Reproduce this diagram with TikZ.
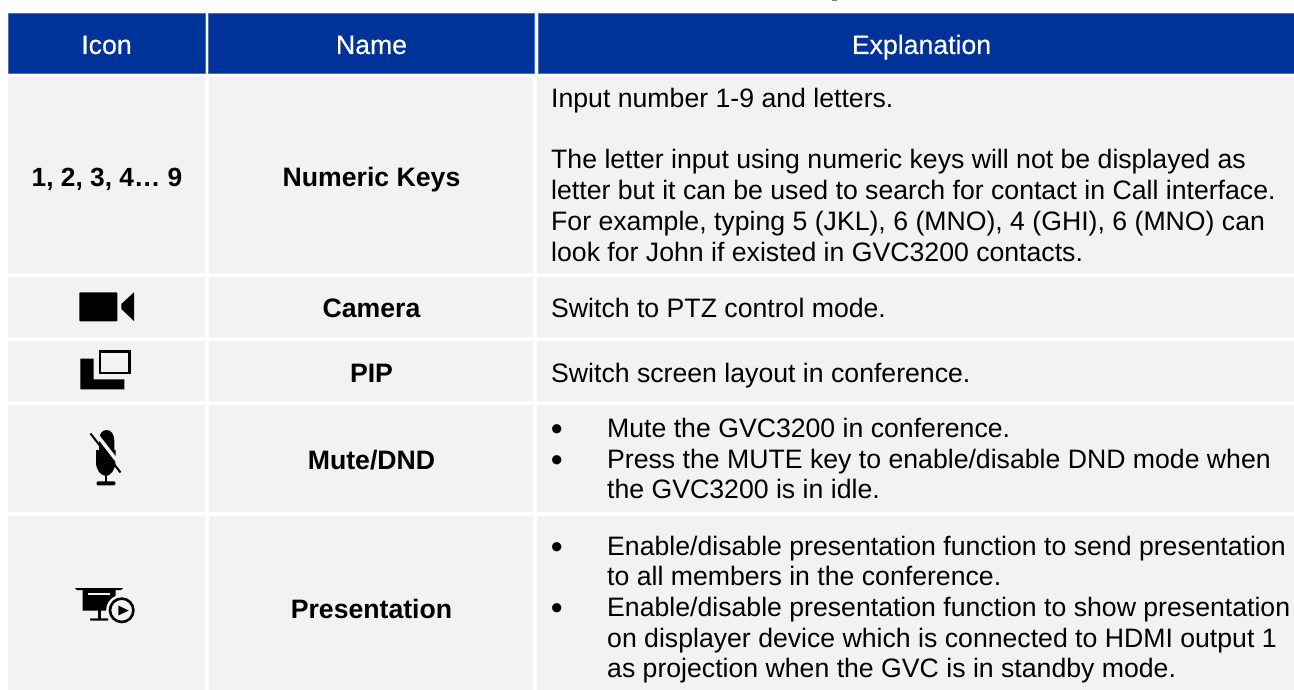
\documentclass[tikz,border=0pt]{standalone}
\usepackage{fontspec}
\setmainfont{Liberation Sans}
\definecolor{hdr}{HTML}{003399}
\definecolor{cellbg}{HTML}{F2F2F2}
\definecolor{txt}{HTML}{000000}
\newcommand{\tsize}{\fontsize{26.65}{30}\selectfont}
\tikzset{
 x=1pt,y=-1pt,
 cell/.style={fill=cellbg,draw=none,inner sep=0pt,outer sep=0pt,anchor=north west},
 head/.style={fill=hdr,draw=hdr!70!white,line width=0.6pt,inner sep=0pt,outer sep=0pt,anchor=center},
 headlbl/.style={text=white,font=\tsize\addfontfeature{FakeBold=0.4},inner sep=0pt,anchor=base},
 namelbl/.style={font=\tsize\bfseries,text=txt,inner sep=0pt,anchor=base},
 keylbl/.style={font=\fontsize{26.3}{30}\selectfont\bfseries,text=txt,inner sep=0pt,anchor=base},
 exline/.style={font=\tsize,text=txt,inner sep=0pt,anchor=base west},
 bul/.style={font=\fontsize{34}{34}\selectfont,text=txt,inner sep=0pt,anchor=base},
 ink/.style={fill=black,draw=none},
}
\begin{document}
\begin{tikzpicture}
\useasboundingbox (0,0) rectangle (1294,690);
\fill[gray] (832,0) rectangle (837,1);
% header
\node[head,minimum width=197pt,minimum height=60pt] (h1) at (106.5,43.5) {};
\node[head,minimum width=326pt,minimum height=60pt] (h2) at (371.5,43.5) {};
\node[head,minimum width=760pt,minimum height=60pt] (h3) at (918,43.5) {};
\node[headlbl] (th1) at (106.5,54) {Icon};
\node[headlbl] (th2) at (371.5,54) {Name};
\node[headlbl] (th3) at (921.5,54) {Explanation};
% cells
\node[cell,minimum width=197pt,minimum height=196pt] (a1) at (8,77) {};
\node[cell,minimum width=324pt,minimum height=196pt] (b1) at (209,77) {};
\node[cell,minimum width=757pt,minimum height=196pt] (c1) at (537,77) {};
\node[cell,minimum width=197pt,minimum height=60pt] (a2) at (8,277) {};
\node[cell,minimum width=324pt,minimum height=60pt] (b2) at (209,277) {};
\node[cell,minimum width=757pt,minimum height=60pt] (c2) at (537,277) {};
\node[cell,minimum width=197pt,minimum height=60pt] (a3) at (8,341) {};
\node[cell,minimum width=324pt,minimum height=60pt] (b3) at (209,341) {};
\node[cell,minimum width=757pt,minimum height=60pt] (c3) at (537,341) {};
\node[cell,minimum width=197pt,minimum height=107pt] (a4) at (8,405) {};
\node[cell,minimum width=324pt,minimum height=107pt] (b4) at (209,405) {};
\node[cell,minimum width=757pt,minimum height=107pt] (c4) at (537,405) {};
\node[cell,minimum width=197pt,minimum height=174pt] (a5) at (8,516) {};
\node[cell,minimum width=324pt,minimum height=174pt] (b5) at (209,516) {};
\node[cell,minimum width=757pt,minimum height=174pt] (c5) at (537,516) {};
% first column text and names
\node[keylbl] (k1) at (107,186) {1, 2, 3, 4… 9};
\node[namelbl] (n1) at (371.5,186) {Numeric Keys};
\node[namelbl] (n2) at (371.5,317) {Camera};
\node[namelbl] (n3) at (371.5,382) {PIP};
\node[namelbl] (n4) at (371.5,469) {Mute/DND};
\node[namelbl] (n5) at (371.5,618) {Presentation};
% explanations
\node[exline] (l1) at (551,108) {Input number 1-9 and letters.};
\node[exline] (l2) at (551,168.5) {The letter input using numeric keys will not be displayed as};
\node[exline] (l3) at (551,199.5) {letter but it can be used to search for contact in Call interface.};
\node[exline] (l4) at (551,230.5) {For example, typing 5 (JKL), 6 (MNO), 4 (GHI), 6 (MNO) can};
\node[exline] (l5) at (551,261) {look for John if existed in GVC3200 contacts.};
\node[exline] (l6) at (551,317) {Switch to PTZ control mode.};
\node[exline] (l7) at (551,382) {Switch screen layout in conference.};
\node[bul] (b41) at (556.7,440.6) {•};
\node[exline] (l8) at (607,437.7) {Mute the GVC3200 in conference.};
\node[bul] (b42) at (556.7,471.9) {•};
\node[exline] (l9) at (607,468.7) {Press the MUTE key to enable/disable DND mode when};
\node[exline] (l10) at (607,498) {the GVC3200 is in idle.};
\node[bul] (b51) at (556.7,558.6) {•};
\node[exline] (l11) at (607,555.7) {Enable/disable presentation function to send presentation};
\node[exline] (l12) at (607,585.7) {to all members in the conference.};
\node[bul] (b52) at (556.7,619.9) {•};
\node[exline] (l13) at (607,616.5) {Enable/disable presentation function to show presentation};
\node[exline] (l14) at (607,647.5) {on displayer device which is connected to HDMI output 1};
\node[exline] (l15) at (607,677.3) {as projection when the GVC is in standby mode.};
% camera icon
\fill[ink,rounded corners=0.8pt] (79.3,292.3) rectangle (117.3,321.3);
\fill[ink] (121.3,304) -- (134,292.3) -- (134,321) -- (121.3,309) -- cycle;
% PIP icon
\fill[ink] (80.3,358.7) -- (93.7,358.7) -- (93.7,379.3) -- (124.3,379.3) -- (124.3,389.3) -- (80.3,389.3) -- cycle;
\draw[black,line width=2.7pt] (100,351.6) rectangle (129.7,373);
% mic icon
\fill[ink] (99,441) .. controls (99,434) and (102,430) .. (106.6,430) .. controls (111,430) and (114.3,434) .. (114.3,441) -- (114.3,455) -- (99,455) -- cycle;
\fill[ink] (96,450) -- (115.5,450) -- (115.5,462) .. controls (115.5,470) and (110,476) .. (106,476) .. controls (101,476) and (96,470) .. (96,462) -- cycle;
\fill[ink] (105,475) rectangle (107.3,482);
\fill[ink,rounded corners=1pt] (96.7,481.3) rectangle (115.3,485.3);
\draw[cellbg,line width=3.5pt] (93.5,430.5) -- (124.5,470.5);
\draw[black,line width=2pt] (90.5,433.5) -- (120.5,472.5);
% presentation icon
\fill[ink] (75,588) -- (123,588) -- (121,590) -- (115.7,590) -- (115.7,610.7) -- (82.7,610.7) -- (82.7,590) -- (77,590) -- cycle;
\fill[cellbg] (88.3,593.3) rectangle (110,595.3);
\fill[ink] (97.5,610) rectangle (100.5,619);
\fill[ink,rounded corners=0.8pt] (90,618.3) rectangle (108.3,620.7);
\fill[cellbg] (121.7,610.3) circle (15.5);
\draw[black,line width=2.6pt] (121.7,610.3) circle (11.7);
\fill[ink] (118.3,605.5) -- (128.7,610.5) -- (118.3,615.5) -- cycle;
\end{tikzpicture}
\end{document}
